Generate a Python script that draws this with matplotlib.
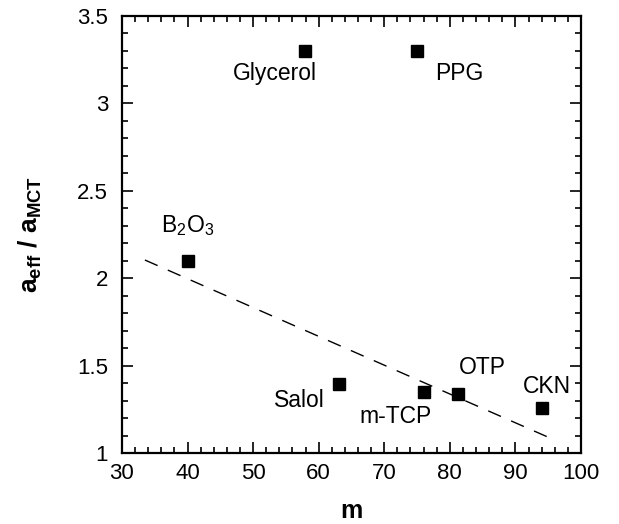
import matplotlib
matplotlib.use('Agg')
import matplotlib.pyplot as plt
from matplotlib.ticker import MultipleLocator

plt.rcParams['font.family'] = ['Liberation Sans', 'DejaVu Sans']
plt.rcParams['mathtext.fontset'] = 'custom'
plt.rcParams['mathtext.rm'] = 'Liberation Sans'
plt.rcParams['mathtext.it'] = 'Liberation Sans'
plt.rcParams['mathtext.bf'] = 'Liberation Sans:bold'

# data
names = ['Glycerol', 'PPG', 'B$_2$O$_3$', 'Salol', 'm-TCP', 'OTP', 'CKN']
m_vals = [57.9, 75.0, 40.0, 63.1, 76.1, 81.2, 94.1]
ratio = [3.30, 3.30, 2.10, 1.395, 1.35, 1.34, 1.26]

# label positions (data coords)
label_x = [53.3, 81.5, 40.0, 57.1, 71.8, 85.0, 94.8]
label_y = [3.17, 3.17, 2.30, 1.30, 1.21, 1.49, 1.38]

# dashed guide line
fit_x = [33.5, 94.9]
fit_y = [2.104, 1.092]

fig = plt.figure(figsize=(6.19, 5.24), dpi=100)
ax = fig.add_axes([0.197, 0.1355, 0.7416, 0.834])

ax.plot(m_vals, ratio, 's', color='black', markersize=8.3)
ax.plot(fit_x, fit_y, color='black', lw=1.0, dashes=(10, 8))

for name, x, y in zip(names, label_x, label_y):
    ax.text(x, y, name, fontsize=16.5, ha='center', va='center')

ax.set_xlim(30, 100)
ax.set_ylim(1, 3.5)
ax.xaxis.set_major_locator(MultipleLocator(10))
ax.xaxis.set_minor_locator(MultipleLocator(2))
ax.yaxis.set_major_locator(MultipleLocator(0.5))
ax.yaxis.set_minor_locator(MultipleLocator(0.1))
ax.set_yticks([1, 1.5, 2, 2.5, 3, 3.5])
ax.set_yticklabels(['1', '1.5', '2', '2.5', '3', '3.5'])

ax.tick_params(which='both', direction='in', top=True, right=True,
               labelsize=16, width=1.2)
ax.tick_params(which='major', length=8)
ax.tick_params(axis='x', which='major', pad=7)
ax.tick_params(axis='y', which='major', pad=10)
ax.tick_params(which='minor', length=4)
for s in ax.spines.values():
    s.set_linewidth(1.6)

ax.set_xlabel('m', fontsize=18, fontweight='bold', labelpad=11)
ax.set_ylabel(r'$\mathbf{a_{eff}\ /\ a_{MCT}}$', fontsize=19, labelpad=24)

fig.savefig('out.png', dpi=100)
